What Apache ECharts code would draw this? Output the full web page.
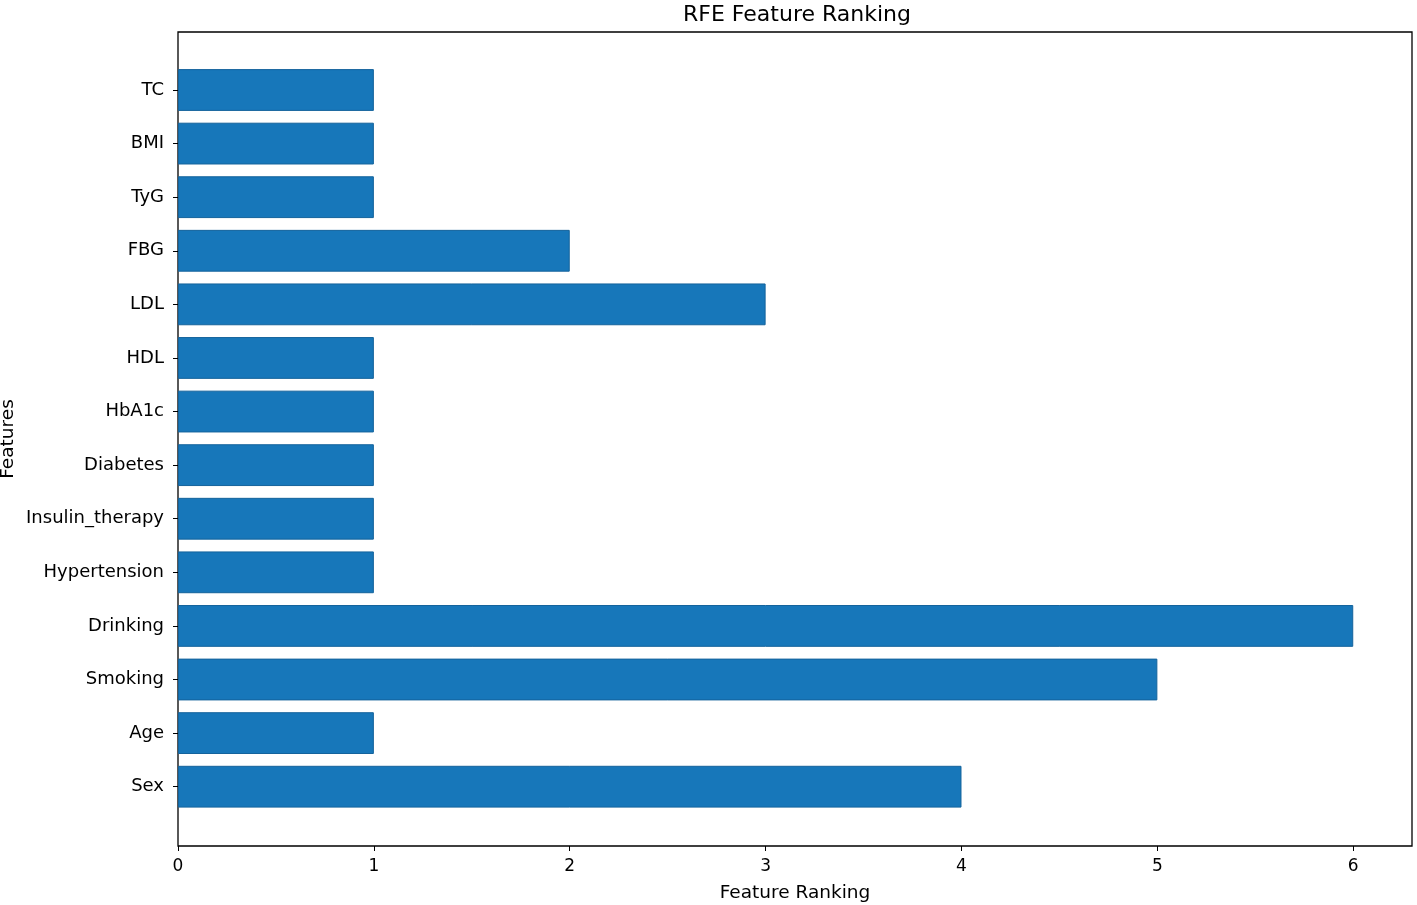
<!DOCTYPE html>
<html><head><meta charset="utf-8">
<script src="https://cdn.jsdelivr.net/npm/echarts@6/dist/echarts.min.js"></script>
<style>html,body{margin:0;padding:0;background:#fff}#c{width:1417px;height:905px}</style>
</head><body><div id="c"></div>
<script>
const categories = ["Sex","Age","Smoking","Drinking","Hypertension","Insulin_therapy","Diabetes","HbA1c","HDL","LDL","FBG","TyG","BMI","TC"];
const rankings = [4,1,5,6,1,1,1,1,1,3,2,1,1,1];
const xTicks = [0,1,2,3,4,5,6];

const font = "DejaVu Sans";
const chart = echarts.init(document.getElementById('c'));
chart.setOption({
  animation: false,
  title: {text: "RFE Feature Ranking", left: 792, top: -1, textAlign: 'center',
    textStyle: {fontFamily: font, fontSize: 22, fontWeight: 'normal', color: '#000'}},
  grid: [
    {left: 178, right: 5, top: 32, bottom: 59, outerBoundsMode: 'none', containLabel: false,
     show: true, borderColor: '#000', borderWidth: 1.3, backgroundColor: 'transparent'},
    {left: 178, right: 5, top: 63.2, bottom: 91.5, outerBoundsMode: 'none', containLabel: false}
  ],
  xAxis: [
    {gridIndex: 0, type: 'value', min: 0, max: 6.3,
     name: "Feature Ranking", nameLocation: 'middle', nameGap: 38,
     nameTextStyle: {fontFamily: font, fontSize: 18.5, color: '#000'},
     axisLine: {show: false}, splitLine: {show: false},
     axisTick: {show: true, length: 5, lineStyle: {color: '#000'}, customValues: xTicks},
     axisLabel: {fontFamily: font, fontSize: 17, color: '#000', margin: 12, customValues: xTicks}},
    {gridIndex: 1, type: 'value', min: 0, max: 6.3, show: false}
  ],
  yAxis: [
    {gridIndex: 0, type: 'value', min: 0, max: 1, show: true,
     name: "Features", nameLocation: 'middle', nameGap: 160, nameRotate: 90,
     nameTextStyle: {fontFamily: font, fontSize: 18.5, color: '#000'},
     axisLine: {show: false}, axisTick: {show: false}, axisLabel: {show: false}, splitLine: {show: false}},
    {gridIndex: 1, type: 'category', data: categories,
     axisLine: {show: false},
     axisTick: {show: true, alignWithLabel: true, length: 5, lineStyle: {color: '#000'}},
     axisLabel: {fontFamily: font, fontSize: 18, color: '#000', margin: 14, padding: [4, 0, 0, 0]},
     splitLine: {show: false}}
  ],
  series: [{
    type: 'bar', xAxisIndex: 1, yAxisIndex: 1, data: rankings, barWidth: '78%',
    itemStyle: {color: '#1777ba', borderColor: '#14639c', borderWidth: 1}
  }]
});
</script></body></html>
